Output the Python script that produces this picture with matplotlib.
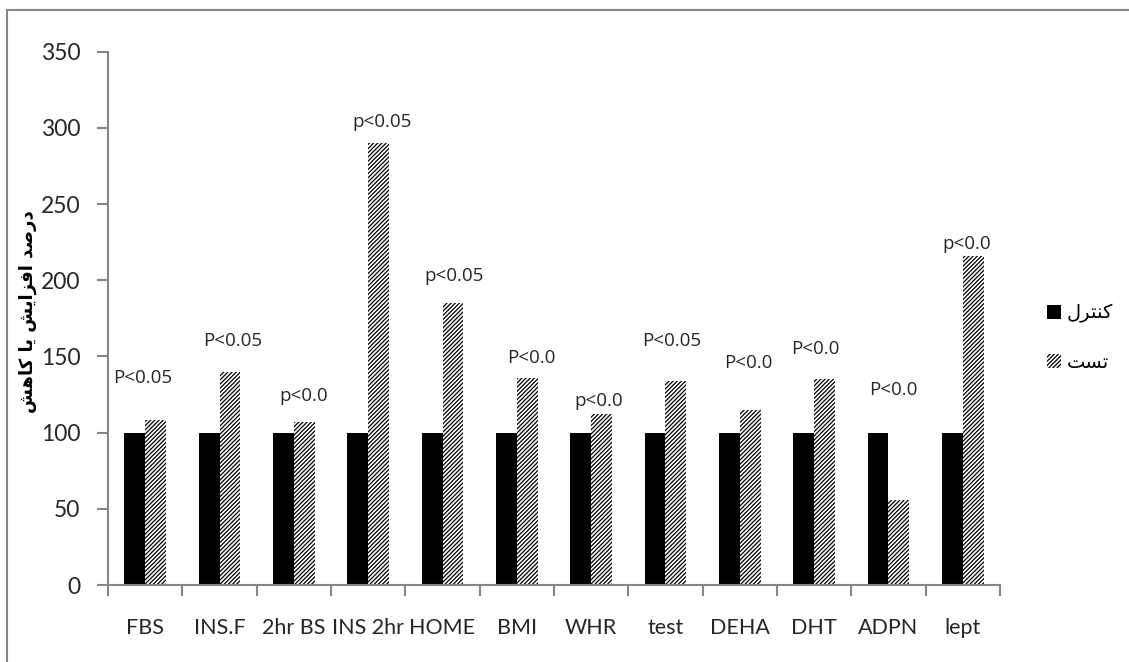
import numpy as np
import matplotlib
matplotlib.use("Agg")
import matplotlib.pyplot as plt
from matplotlib.lines import Line2D

categories = ["FBS", "INS.F", "2hr BS", "INS 2hr", "HOME", "BMI", "WHR",
              "test", "DEHA", "DHT", "ADPN", "lept"]
control = [100, 100, 100, 100, 100, 100, 100, 100, 100, 100, 100, 100]
test = [108, 140, 107, 290, 185, 136, 112, 134, 115, 135, 56, 216]
p_labels = ["P<0.05", "P<0.05", "p<0.0", "p<0.05", "p<0.05", "P<0.0", "p<0.0",
            "P<0.05", "P<0.0", "P<0.0", "P<0.0", "p<0.0"]
# where the p-value text boxes sit (data units)
label_x = [-0.04, 1.18, 2.13, 3.19, 4.16, 5.19, 6.10, 7.09, 8.12, 9.02, 10.07, 11.05]
label_y = [136, 160, 124, 304, 203, 149, 121, 160, 146, 155, 128, 224]

# Persian text, pre-shaped into presentation forms (visual order)
ylabel_fa = "\uFEB6\uFEEB\uFE8E\uFB90 \uFE8E\uFBFE \uFEB6\uFBFE\uFE8D\uFEB0\uFED3\uFE8D \uFEAA\uFEBB\uFEAD\uFEA9"
control_fa = "\uFEDD\uFEAE\uFE98\uFEE8\uFB90"
test_fa = "\uFE96\uFEB4\uFE97"

plt.rcParams["hatch.linewidth"] = 0.9
axis_gray = "#868686"
text_col = "#262626"

fig = plt.figure(figsize=(11.29, 6.62), dpi=100)
ax = fig.add_axes([0.0957, 0.1163, 0.79, 0.8057])

x = np.arange(len(categories))
w = 0.28
ax.bar(x - w / 2, control, w, color="black", linewidth=0)
ax.bar(x + w / 2, test, w, color="white", edgecolor="black", hatch="////////", linewidth=0)

for lx, ly, t in zip(label_x, label_y, p_labels):
    ax.text(lx, ly, t, ha="center", va="center", fontsize=13.5,
            family="Open Sans", color=text_col)

ax.set_xlim(-0.5, len(categories) - 0.5)
ax.set_ylim(0, 350)
ax.set_yticks(np.arange(0, 351, 50))
ax.set_xticks(np.arange(-0.5, len(categories), 1))
ax.set_xticklabels([])
ax.set_xticks(x, minor=True)
ax.set_xticklabels(categories, minor=True)
ax.tick_params(axis="x", which="major", length=8, width=1.5, color=axis_gray, direction="out")
ax.tick_params(axis="x", which="minor", length=0, pad=24, labelsize=15.5, labelcolor=text_col)
ax.tick_params(axis="y", length=8, width=1.5, color=axis_gray, pad=12,
               labelsize=16.5, labelcolor=text_col)
for lab in ax.get_xticklabels(minor=True) + ax.get_yticklabels():
    lab.set_family("Lato")

for s in ["top", "right"]:
    ax.spines[s].set_visible(False)
for s in ["left", "bottom"]:
    ax.spines[s].set_color(axis_gray)
    ax.spines[s].set_linewidth(1.5)

fig.text(0.025, 0.53, ylabel_fa, rotation=90, ha="center", va="center",
         fontsize=13, fontweight="bold", family=["DejaVu Sans"], color="black")

handles = [plt.Rectangle((0, 0), 1, 1, facecolor="black", linewidth=0),
           plt.Rectangle((0, 0), 1, 1, facecolor="white", edgecolor="black",
                         hatch="////////", linewidth=0)]
leg = fig.legend(handles, [control_fa, test_fa], loc="center left",
                 bbox_to_anchor=(0.912, 0.49), frameon=False,
                 handlelength=0.7, handleheight=0.7, handletextpad=0.3,
                 labelspacing=1.5, prop={"family": ["DejaVu Sans"], "size": 14})

# outer chart border (only left and top visible in the crop)
fig.add_artist(Line2D([0.0066, 0.0066], [0, 0.985], color=axis_gray, lw=1.5))
fig.add_artist(Line2D([0.0066, 1], [0.985, 0.985], color=axis_gray, lw=1.5))

fig.savefig("out.png", dpi=100)
